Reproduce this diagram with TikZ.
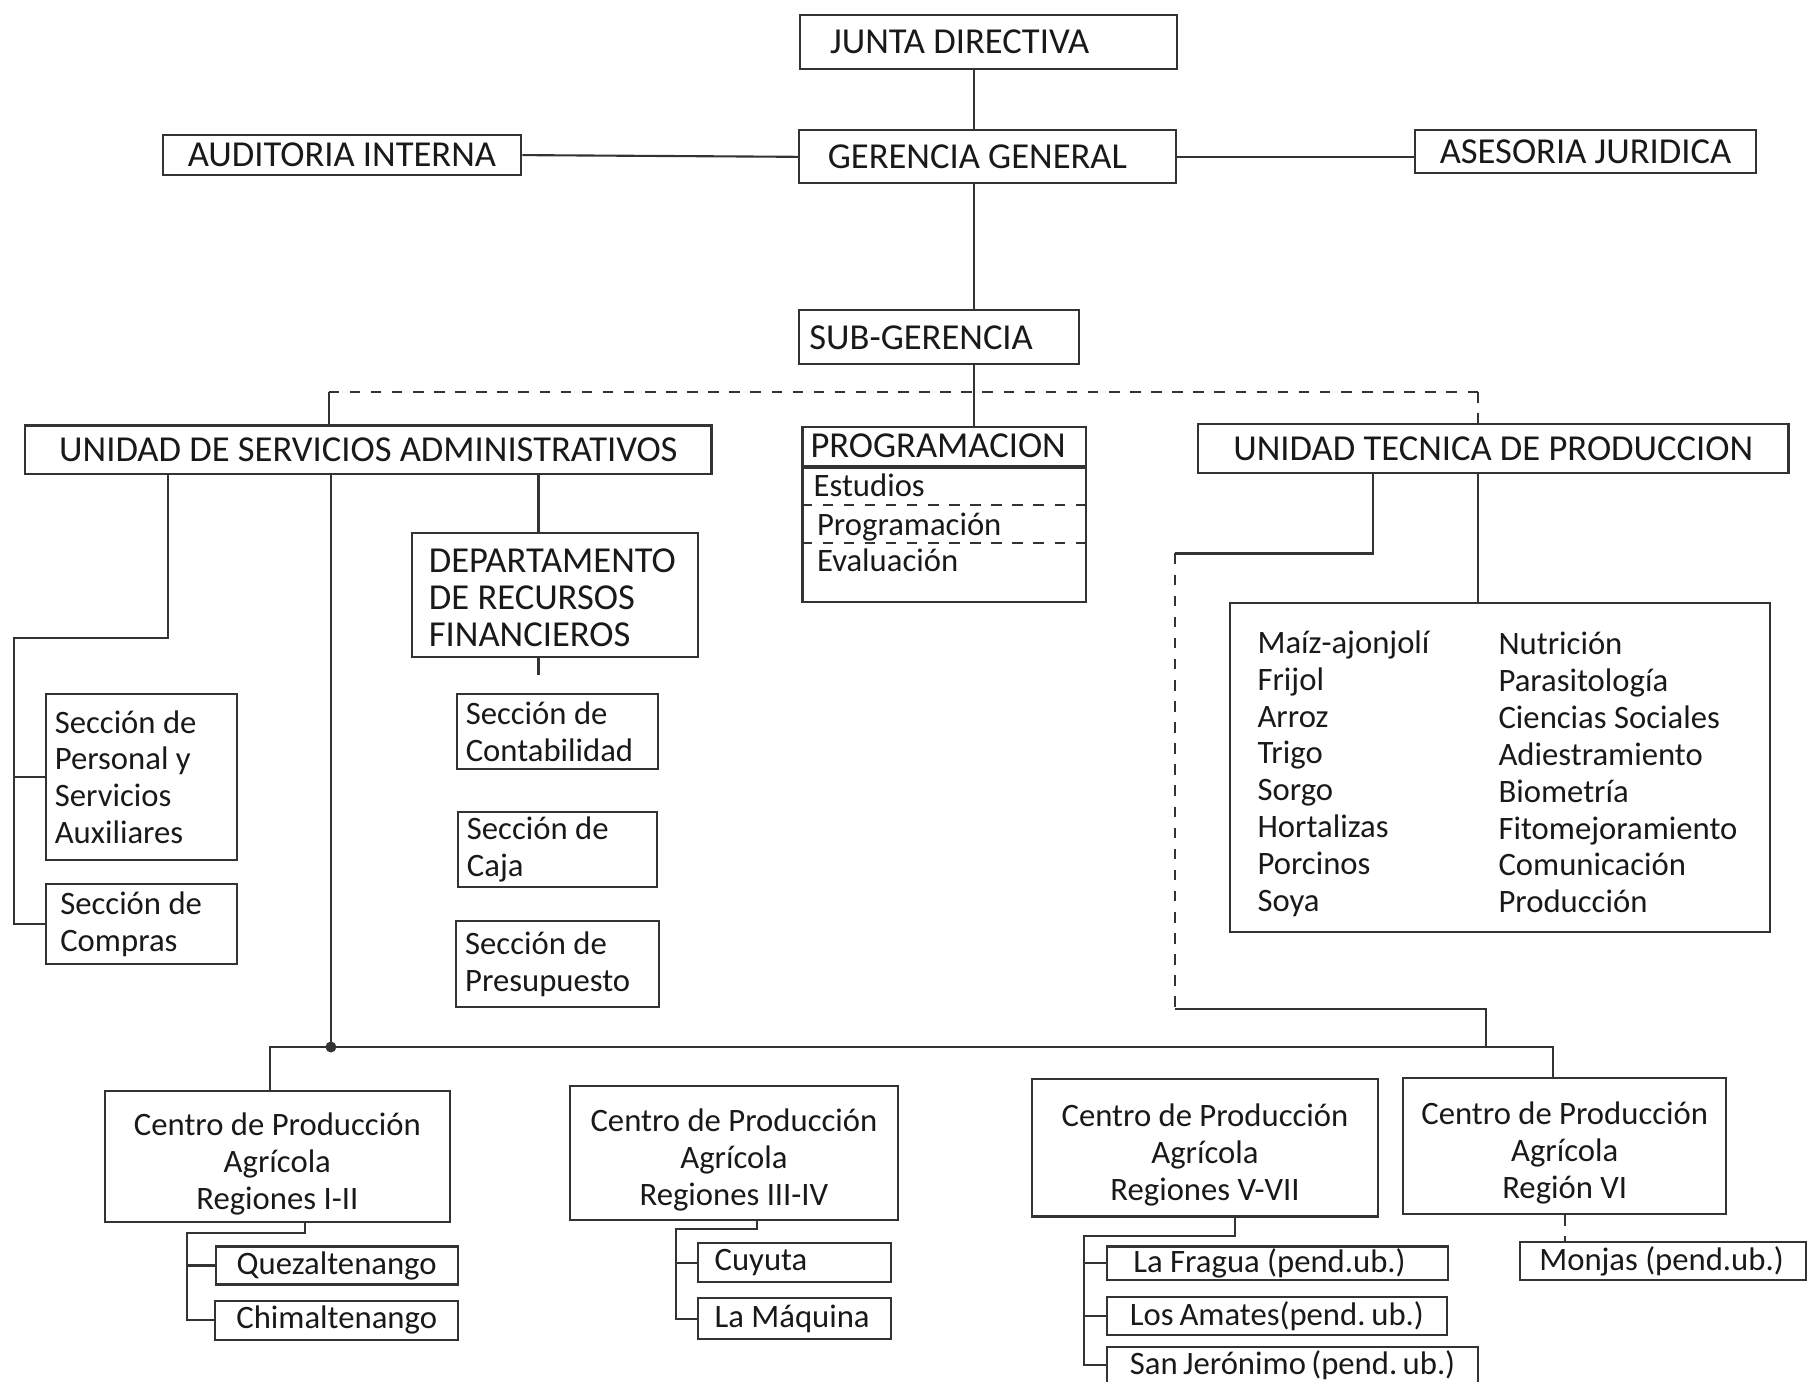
\documentclass[tikz,border=0pt]{standalone}
\usepackage{fontspec}
\setmainfont{Carlito}
\usetikzlibrary{positioning,calc}
\hyphenpenalty=10000
\exhyphenpenalty=10000
\newcommand{\cstrut}{\rule{0pt}{3.7mm}}
\newcommand{\dstrut}{\rule{0pt}{3mm}}

\begin{document}
\begin{tikzpicture}
  [x=0.1153mm, y=-0.1153mm,
   boxN/.style={draw=black!80, semithick, rectangle, inner sep=0pt},
   capsT/.style={font=\fontsize{10.4}{10.5}\selectfont, text=black!90},
   lowT/.style={font=\fontsize{9.3}{10.5}\selectfont, text=black!90},
   leftN/.style={boxN, align=flush left},
   midN/.style={boxN, align=center},
   orgline/.style={draw=black!80, semithick},
   node distance=2mm]

  \useasboundingbox (0,0) rectangle (1568,1198);

  \node[leftN, capsT, inner xsep=3mm, text width=31.7mm, minimum height=5.42mm] (junta) at (857.5,36.5) {JUNTA~DIRECTIVA};
  \node[leftN, capsT, inner xsep=2.88mm, text width=31.94mm, minimum height=5.3mm] (gerencia) at (856.5,136) {GERENCIA~GENERAL};
  \node[midN, capsT, minimum width=35.86mm, minimum height=4.04mm] (auditoria) at (296.5,134.5) {AUDITORIA INTERNA};
  \node[midN, capsT, minimum width=34.13mm, minimum height=4.27mm] (asesoria) at (1375,131.5) {ASESORIA JURIDICA};
  \node[leftN, capsT, inner xsep=1.04mm, text width=25.94mm, minimum height=5.42mm] (subgerencia) at (814.5,292.5) {SUB-GERENCIA};

  \node[midN, capsT, minimum width=68.6mm, minimum height=4.84mm] (admin) at (319.5,390) {UNIDAD DE SERVICIOS ADMINISTRATIVOS};
  \node[leftN, capsT, inner xsep=0.8mm, text width=26.77mm, minimum height=3.92mm] (prog) at (819,387) {PROGRAMACION};
  \node[boxN, minimum width=28.37mm, minimum height=13.38mm, below=0pt of prog] (progList) {};
  \node[lowT, inner sep=0pt, anchor=base west] (estudios) at (705,431) {Estudios};
  \node[lowT, inner sep=0pt, anchor=base west] (programacion) at (708,464) {Programación};
  \node[lowT, inner sep=0pt, anchor=base west] (evaluacion) at (708,496) {Evaluación};
  \draw[orgline, dashed] ($(progList.north west)+(0,33)$) -- ($(progList.north east)+(0,33)$);
  \draw[orgline, dashed] ($(progList.north west)+(0,66)$) -- ($(progList.north east)+(0,66)$);
  \node[midN, capsT, minimum width=59.04mm, minimum height=4.84mm] (tecnica) at (1295,389) {UNIDAD TECNICA DE PRODUCCION};

  \node[leftN, lowT, inner xsep=0.85mm, text width=17.4mm, minimum height=16.6mm] (personal) at (123,674) {Sección~de\\Personal~y\\Servicios\\Auxiliares};
  \node[leftN, lowT, inner xsep=1.4mm, text width=16.3mm, minimum height=7.96mm, below=2.2mm of personal] (compras) {Sección~de\\Compras};

  \node[leftN, capsT, inner xsep=1.73mm, text width=25.14mm, minimum height=12.45mm] (finanzas) at (481,516) {\dstrut DEPARTAMENTO\\DE~RECURSOS\\FINANCIEROS};
  \node[leftN, lowT, inner xsep=0.92mm, text width=18.34mm, minimum height=7.5mm] (contab) at (483.5,634.5) {Sección~de\\Contabilidad};
  \node[leftN, lowT, inner xsep=0.92mm, text width=18.11mm, minimum height=7.5mm, below=4.1mm of contab] (caja) {Sección~de\\Caja};
  \node[leftN, lowT, inner xsep=0.92mm, text width=18.46mm, minimum height=8.53mm, below=3.2mm of caja] (presupuesto) {Sección~de\\Presupuesto};

  \node[boxN, minimum width=53.97mm, minimum height=32.86mm] (ramas) at (1301,665.5) {};
  \node[lowT, inner sep=0pt, align=left, anchor=west] (cultivos) at (1090,671) {Maíz-ajonjolí\\Frijol\\Arroz\\Trigo\\Sorgo\\Hortalizas\\Porcinos\\Soya};
  \node[lowT, inner sep=0pt, align=left, anchor=west] (disciplinas) at (1299,670) {Nutrición\\Parasitología\\Ciencias Sociales\\Adiestramiento\\Biometría\\Fitomejoramiento\\Comunicación\\Producción};

  \node[midN, lowT, minimum width=34.48mm, minimum height=13.15mm] (centroA) at (240.5,1003) {\cstrut Centro de Producción\\Agrícola\\Regiones I-II};
  \node[midN, lowT, minimum width=32.86mm, minimum height=13.38mm] (centroB) at (636.5,1000) {\cstrut Centro de Producción\\Agrícola\\Regiones III-IV};
  \node[midN, lowT, minimum width=34.59mm, minimum height=13.72mm] (centroC) at (1045,995.5) {\cstrut Centro de Producción\\Agrícola\\Regiones V-VII};
  \node[midN, lowT, minimum width=32.29mm, minimum height=13.61mm] (centroD) at (1357,994) {\cstrut Centro de Producción\\Agrícola\\Región VI};

  \node[midN, lowT, minimum width=24.2mm, minimum height=3.8mm] (quetzal) at (292,1097.5) {Quezaltenango};
  \node[midN, lowT, minimum width=24.33mm, minimum height=3.92mm, below=1.4mm of quetzal] (chimal) {Chimaltenango};
  \node[leftN, lowT, inner xsep=1.7mm, text width=15.97mm, minimum height=3.92mm] (cuyuta) at (689,1095) {Cuyuta};
  \node[leftN, lowT, inner xsep=1.7mm, text width=15.97mm, minimum height=4.04mm, below=1.4mm of cuyuta] (maquina) {La~Máquina};
  \node[leftN, lowT, inner xsep=2.65mm, text width=28.83mm, minimum height=3.34mm] (fragua) at (1108,1095.5) {La~Fragua~(pend.ub.)};
  \node[leftN, lowT, inner xsep=2.3mm, text width=29.4mm, minimum height=3.8mm, below=1.5mm of fragua.south west, anchor=north west] (amates) {Los~Amates(pend.~ub.)};
  \node[leftN, lowT, inner xsep=2.3mm, text width=32.53mm, minimum height=3.57mm, below=1mm of amates.south west, anchor=north west] (jeronimo) {San~Jerónimo~(pend.~ub.)};
  \node[leftN, lowT, inner xsep=1.96mm, text width=24.68mm, minimum height=3.8mm] (monjas) at (1442,1093.5) {Monjas~(pend.ub.)};

  \coordinate (spine) at (845,0);
  \draw[orgline] (junta.south -| spine) -- (gerencia.north -| spine);
  \draw[orgline] (gerencia.south -| spine) -- (subgerencia.north -| spine);
  \draw[orgline] (subgerencia.south -| spine) -- (prog.north -| spine);
  \draw[orgline] (auditoria.east) -- (gerencia.west);
  \draw[orgline] (gerencia.east) -- (gerencia.east -| asesoria.west);

  \coordinate (busA) at (285,340);
  \coordinate (busB) at (1282,340);
  \draw[orgline] (admin.north -| busA) -- (busA);
  \draw[orgline, dashed] (busA) -- (busB);
  \draw[orgline, dashed] (busB) -- (tecnica.north -| busB);

  \coordinate (admX) at (146,0);
  \coordinate (admJ) at (12,553);
  \draw[orgline] (admin.south -| admX) |- (admJ) |- (personal.west);
  \draw[orgline] (admJ) |- (compras.west);
  \coordinate (prodJ) at (287,908);
  \draw[orgline] (admin.south -| prodJ) -- (prodJ);
  \coordinate (finX) at (467,0);
  \coordinate (finStub) at (467,585);
  \draw[orgline] (admin.south -| finX) -- (finanzas.north -| finX);
  \draw[orgline] (finanzas.south -| finX) -- (finStub);

  \coordinate (tecA) at (1191,480);
  \coordinate (tecL) at (1019,480);
  \coordinate (tecB) at (1019,875);
  \coordinate (tecC) at (1289,908);
  \draw[orgline] (tecnica.south -| tecA) |- (tecL);
  \draw[orgline, dashed] (tecL) -- (tecB);
  \draw[orgline] (tecB) -| (tecC);
  \draw[orgline] (tecnica.south -| busB) -- (ramas.north -| busB);

  \coordinate (busL) at (234,908);
  \coordinate (busR) at (1347,908);
  \draw[orgline] (centroA.north -| busL) |- (busR) -- (centroD.north -| busR);
  \fill[black!80] (prodJ) circle (0.55mm);

  \coordinate (jA) at (162,1069);
  \draw[orgline] ($(centroA.south)+(24,0)$) |- (jA) |- (quetzal.west);
  \draw[orgline] (jA) |- (chimal.west);
  \coordinate (jB) at (586,1066);
  \draw[orgline] ($(centroB.south)+(20,0)$) |- (jB) |- (cuyuta.west);
  \draw[orgline] (jB) |- (maquina.west);
  \coordinate (jC) at (940,1072);
  \draw[orgline] ($(centroC.south)+(26,0)$) |- (jC) |- (fragua.west);
  \draw[orgline] (jC) |- (amates.west);
  \draw[orgline] (jC) |- (jeronimo.west);
  \draw[orgline, dashed] (centroD.south) -- (centroD.south |- monjas.north);

\end{tikzpicture}
\end{document}
